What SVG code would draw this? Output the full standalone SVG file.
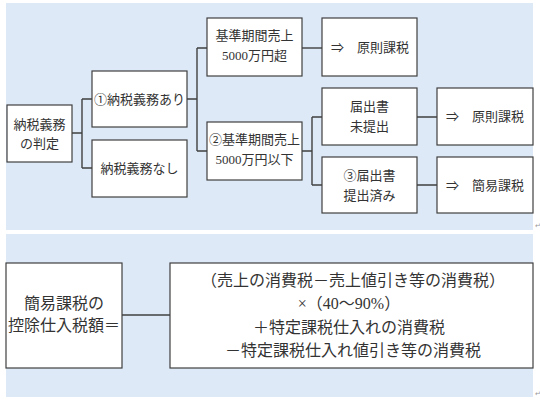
<svg xmlns="http://www.w3.org/2000/svg" width="540" height="404" viewBox="0 0 540 404">
<style>
.panel{fill:#dde9f6}
.box{fill:#ffffff;stroke:#404040;stroke-width:1.2}
.con{fill:none;stroke:#404040;stroke-width:1.4}
text{font-family:"Liberation Serif","Noto Sans CJK JP",serif;fill:#333333;text-anchor:middle}
.s{font-size:13px}
.l{font-size:16px}
.mark{font-size:7px;fill:#999999}
</style>
<rect width="540" height="404" fill="#ffffff"/>
<rect class="panel" x="6" y="3" width="527" height="227"/>
<rect class="panel" x="6" y="234" width="527" height="163"/>
<text class="mark" x="538" y="228">↵</text>
<text class="mark" x="538" y="396">↵</text>
<g id="connectors">
<path class="con" d="M72 133H82M82 99V168M82 99H92M82 168H92"/>
<path class="con" d="M187 99H197M197 48V151M197 48H207M197 151H207"/>
<path class="con" d="M302 48H322"/>
<path class="con" d="M302 151H312M312 117V185M312 117H322M312 185H322"/>
<path class="con" d="M417 117H437M417 185H437"/>
<path class="con" d="M122 315H170"/>
</g>
<g id="n-judge">
<rect class="box" x="7" y="105" width="65" height="57"/>
<text class="s" x="39.5" y="128.5">納税義務</text>
<text class="s" x="39.5" y="148">の判定</text>
</g>
<g id="n-yes">
<rect class="box" x="92" y="71" width="95" height="56"/>
<text class="s" x="139.5" y="103.5">①納税義務あり</text>
</g>
<g id="n-no">
<rect class="box" x="92" y="140" width="95" height="57"/>
<text class="s" x="139.5" y="172.5">納税義務なし</text>
</g>
<g id="n-over">
<rect class="box" x="207" y="18" width="95" height="58"/>
<text class="s" x="254.5" y="40">基準期間売上</text>
<text class="s" x="254.5" y="59.5">5000万円超</text>
</g>
<g id="n-under">
<rect class="box" x="207" y="122" width="95" height="58"/>
<text class="s" x="254.5" y="144">②基準期間売上</text>
<text class="s" x="254.5" y="164">5000万円以下</text>
</g>
<g id="n-gen1">
<rect class="box" x="322" y="18" width="95" height="58"/>
<text class="s"><tspan x="337.5" y="51.5">⇒</tspan><tspan x="383" y="51.5">原則課税</tspan></text>
</g>
<g id="n-notfiled">
<rect class="box" x="322" y="88" width="95" height="57"/>
<text class="s" x="369.5" y="110.5">届出書</text>
<text class="s" x="369.5" y="130.5">未提出</text>
</g>
<g id="n-filed">
<rect class="box" x="322" y="157" width="95" height="56"/>
<text class="s" x="369.5" y="179.5">③届出書</text>
<text class="s" x="369.5" y="199.5">提出済み</text>
</g>
<g id="n-gen2">
<rect class="box" x="437" y="88" width="96" height="57"/>
<text class="s"><tspan x="452.5" y="121">⇒</tspan><tspan x="498" y="121">原則課税</tspan></text>
</g>
<g id="n-simple">
<rect class="box" x="437" y="157" width="96" height="56"/>
<text class="s"><tspan x="452.5" y="189.5">⇒</tspan><tspan x="498" y="189.5">簡易課税</tspan></text>
</g>
<g id="n-deduct">
<rect class="box" x="6" y="263" width="116" height="105"/>
<text class="l" x="64" y="309">簡易課税の</text>
<text class="l" x="64" y="331">控除仕入税額＝</text>
</g>
<g id="n-formula">
<rect class="box" x="170" y="263" width="363" height="105"/>
<text class="l" x="353" y="286">（売上の消費税－売上値引き等の消費税）</text>
<text class="l" x="349" y="309">×（40～90%）</text>
<text class="l" x="349" y="333">＋特定課税仕入れの消費税</text>
<text class="l" x="353" y="356">－特定課税仕入れ値引き等の消費税</text>
</g>
</svg>
